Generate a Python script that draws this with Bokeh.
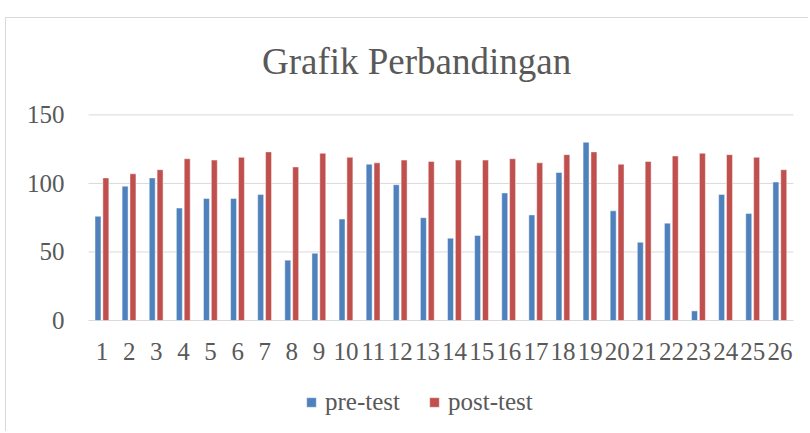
from bokeh.plotting import figure
from bokeh.models import (ColumnDataSource, Range1d, FixedTicker, Legend, LegendItem,
                          LinearAxis, Label)
from bokeh.core.properties import value
from bokeh.transform import dodge
from bokeh.embed import file_html
from bokeh.resources import INLINE

categories = [str(i) for i in range(1, 27)]
pre_test = [76, 98, 104, 82, 89, 89, 92, 44, 49, 74, 114, 99, 75, 60, 62, 93, 77, 108, 130, 80, 57, 71, 7, 92, 78, 101]
post_test = [104, 107, 110, 118, 117, 119, 123, 112, 122, 119, 115, 117, 116, 117, 117, 118, 115, 121, 123, 114, 116, 120, 122, 121, 119, 110]
y_ticks = [0, 50, 100, 150]

FONT = "Liberation Serif"
GRAY = "#595959"
GRID = "#d9d9d9"

xpos = [i + 1 for i in range(len(categories))]
src = ColumnDataSource(dict(x=xpos, pre=pre_test, post=post_test))
grid_src = ColumnDataSource(dict(y=y_ticks, x0=[0.5] * len(y_ticks),
                                 x1=[len(categories) + 0.5] * len(y_ticks)))

p = figure(x_range=Range1d(-2.524, 27.09), y_range=Range1d(-81.7, 220.3),
           width=803, height=414, output_backend="svg", toolbar_location=None,
           x_axis_location=None, y_axis_location=None, min_border=0)
p.styles = {"margin-top": "17px", "margin-left": "5px",
            "border-top": "1px solid #d9d9d9", "border-left": "1px solid #d9d9d9"}
p.outline_line_color = None
p.grid.visible = False

p.segment(x0="x0", x1="x1", y0="y", y1="y", source=grid_src, line_color=GRID, line_width=1)

r1 = p.vbar(x=dodge("x", -0.15), top="pre", width=0.22, source=src,
            fill_color="#4F81BD", line_color="#ffffff", line_alpha=0.45, line_width=1)
r2 = p.vbar(x=dodge("x", 0.14), top="post", width=0.22, source=src,
            fill_color="#C0504D", line_color="#ffffff", line_alpha=0.45, line_width=1)

xaxis = LinearAxis(fixed_location=0, ticker=FixedTicker(ticks=xpos),
                   major_label_overrides={x: c for x, c in zip(xpos, categories)})
yaxis = LinearAxis(fixed_location=0.5, ticker=FixedTicker(ticks=y_ticks))
for ax in (xaxis, yaxis):
    ax.axis_line_color = None
    ax.major_tick_line_color = None
    ax.minor_tick_line_color = None
    ax.major_tick_out = 0
    ax.major_tick_in = 0
    ax.major_label_text_font = FONT
    ax.major_label_text_font_size = "25px"
    ax.major_label_text_color = GRAY
xaxis.major_label_standoff = 22
yaxis.major_label_standoff = 24
p.add_layout(xaxis, "below")
p.add_layout(yaxis, "left")

title = Label(x=12.6, y=188.6, text="Grafik Perbandingan", text_align="center",
              text_baseline="middle", text_font=FONT, text_font_size="37px", text_color=GRAY)
p.add_layout(title)

legend = Legend(items=[LegendItem(label=value("pre-test"), renderers=[r1]),
                       LegendItem(label=value("post-test"), renderers=[r2])],
                location=(299, 16), orientation="horizontal",
                label_text_font=FONT, label_text_font_size="25px", label_text_color=GRAY,
                glyph_width=12, glyph_height=12, label_standoff=8, spacing=28,
                padding=0, margin=0, border_line_color=None, background_fill_alpha=0)
p.add_layout(legend, "center")

open("out.html", "w").write(file_html(p, INLINE))
